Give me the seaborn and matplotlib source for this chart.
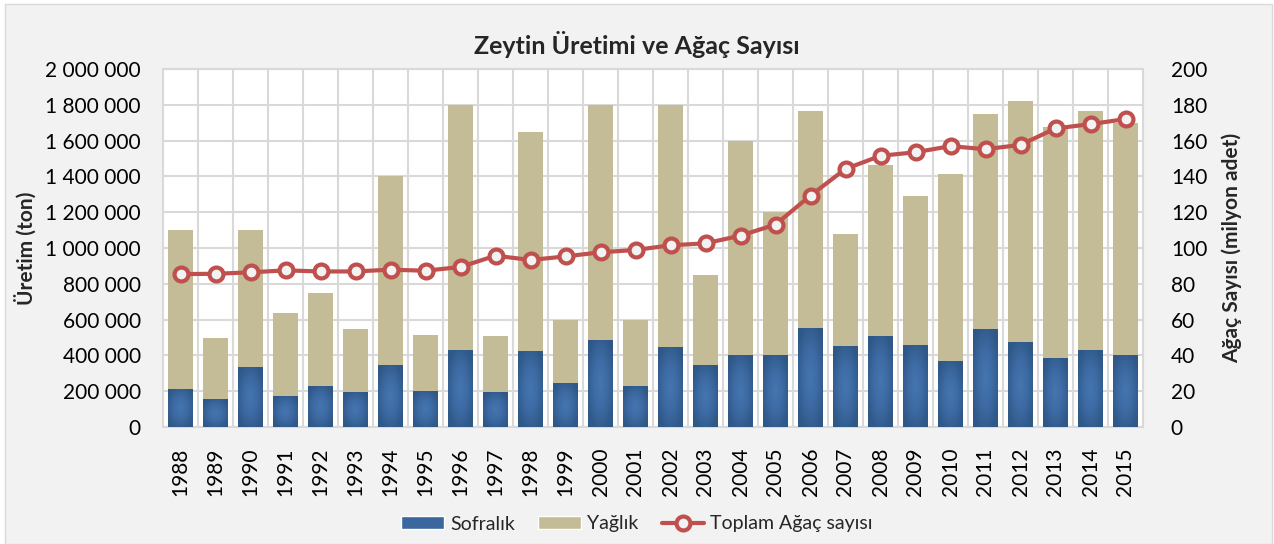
import matplotlib
matplotlib.use("Agg")
import matplotlib.pyplot as plt
import seaborn as sns
import numpy as np
import pandas as pd
from matplotlib.patches import Patch, Rectangle
from matplotlib.lines import Line2D
from matplotlib.colors import LinearSegmentedColormap
from matplotlib.ticker import FuncFormatter, MultipleLocator

# veriler
years = [str(y) for y in range(1988, 2016)]
toplam_uretim = [1100000, 500000, 1100000, 636000, 750000, 550000, 1400000, 515000,
                 1800000, 510000, 1650000, 600000, 1800000, 600000, 1800000, 850000,
                 1600000, 1200000, 1767000, 1076000, 1464000, 1290000, 1415000, 1750000,
                 1820000, 1676000, 1768000, 1700000]
sofralik = [215000, 155000, 334000, 172000, 228000, 195000, 345000, 200000,
            430000, 195000, 425000, 245000, 487000, 228000, 445000, 345000,
            400000, 400000, 552000, 451000, 507000, 457000, 368000, 547000,
            474000, 386000, 430000, 400000]
agac_sayisi = [85.4, 85.6, 86.4, 87.5, 86.9, 86.9, 87.9, 87.3, 89.4, 95.7,
               93.3, 95.3, 97.6, 98.9, 101.5, 102.6, 106.9, 113.1, 129.3, 144.2,
               151.5, 153.5, 156.9, 155.2, 157.6, 166.8, 169.2, 172.0]

df = pd.DataFrame({"yil": years, "toplam": toplam_uretim,
                   "sofralik": sofralik, "agac": agac_sayisi})

mavi = "#3b679f"
bej = "#c4bc96"
kirmizi = "#c0504d"
mavi_cmap = LinearSegmentedColormap.from_list("mavi", ["#4576b0", "#3d6aa3", "#2f5887"])

sns.set_style("white")
plt.rcParams["font.family"] = ["Lato", "DejaVu Sans"]

fig = plt.figure(figsize=(12.74, 5.44), dpi=100, facecolor="white")
fig.patches.append(Rectangle((5 / 1274, 0), 1267 / 1274, 540 / 544, transform=fig.transFigure,
                             facecolor="#f2f2f2", edgecolor="#d9d9d9", linewidth=1, zorder=-10))
ax = fig.add_axes([163 / 1274, 1 - 427 / 544, 980 / 1274, 358 / 544])
ax.set_facecolor("white")

# yığılmış çubuklar: önce toplam (yağlık), üstüne sofralık
sns.barplot(data=df, x="yil", y="toplam", color=bej, width=0.69, saturation=1,
            linewidth=0, ax=ax, zorder=2)
sns.barplot(data=df, x="yil", y="sofralik", color=mavi, width=0.69, saturation=1,
            linewidth=0, ax=ax, zorder=3)

ax.set_ylim(0, 2000000)
ax.set_xlim(-0.5, len(years) - 0.5)

# sofralık çubuklarına radyal renk geçişi
gy, gx = np.mgrid[-1:1:60j, -1:1:30j]
r = np.clip(np.sqrt(gx ** 2 + gy ** 2) / 1.2, 0, 1)
for bar in ax.containers[1]:
    x0, y0 = bar.get_x(), bar.get_y()
    w, h = bar.get_width(), bar.get_height()
    im = ax.imshow(r, cmap=mavi_cmap, vmin=0, vmax=1, extent=(x0, x0 + w, y0, y0 + h),
                   aspect="auto", interpolation="bilinear", zorder=3.5)
    im.set_clip_path(bar)
ax.set_aspect("auto")
ax.set_xlim(-0.5, len(years) - 0.5)
ax.set_ylim(0, 2000000)

ax.yaxis.set_major_locator(MultipleLocator(200000))
ax.yaxis.set_major_formatter(FuncFormatter(lambda v, p: f"{v:,.0f}".replace(",", " ")))
ax.set_xticks(range(len(years)))
ax.set_xticklabels(years, rotation=90)
ax.set_xticks([i + 0.5 for i in range(len(years) - 1)], minor=True)
ax.grid(True, which="major", axis="y", color="#d9d9d9", linewidth=1.5, zorder=0)
ax.grid(True, which="minor", axis="x", color="#d9d9d9", linewidth=1.5, zorder=0)
ax.set_axisbelow(True)
ax.tick_params(axis="both", which="both", length=0, labelsize=15, colors="black")
ax.tick_params(axis="y", pad=16)
ax.tick_params(axis="x", pad=15)
ax.set_xlabel("")
ax.set_ylabel("Üretim (ton)", fontsize=15, fontweight="bold", labelpad=6)
for s in ax.spines.values():
    s.set_color("#d9d9d9")
    s.set_linewidth(1.5)

# ağaç sayısı çizgisi (sağ eksen)
ax2 = ax.twinx()
sns.pointplot(data=df, x="yil", y="agac", color=kirmizi, markers="o", linestyles="-",
              ax=ax2, markersize=10, markerfacecolor="#f2f2f2", markeredgewidth=3,
              linewidth=3, zorder=5)
ax2.set_ylim(0, 200)
ax2.set_xlim(-0.5, len(years) - 0.5)
ax2.yaxis.set_major_locator(MultipleLocator(20))
ax2.tick_params(axis="y", length=0, labelsize=15, colors="black", pad=20)
ax2.set_ylabel("Ağaç Sayısı (milyon adet)", fontsize=15, fontweight="bold", labelpad=10)
ax2.set_xlabel("")
ax2.grid(False)
for s in ax2.spines.values():
    s.set_visible(False)

fig.text(0.5, 1 - 45 / 544, "Zeytin Üretimi ve Ağaç Sayısı", ha="center", va="center",
         fontsize=18, fontweight="bold")

handles = [Patch(facecolor=mavi, label="Sofralık"),
           Patch(facecolor=bej, label="Yağlık"),
           Line2D([], [], color=kirmizi, linewidth=3, marker="o", markersize=10,
                  markerfacecolor="#f2f2f2", markeredgewidth=3, label="Toplam Ağaç sayısı")]
fig.legend(handles=handles, loc="center", bbox_to_anchor=(0.5, 1 - 524 / 544), ncol=3,
           frameon=False, fontsize=14, handlelength=2.2, handleheight=0.6,
           columnspacing=1.2, handletextpad=0.3)

fig.savefig("out.png", dpi=100, facecolor=fig.get_facecolor())
